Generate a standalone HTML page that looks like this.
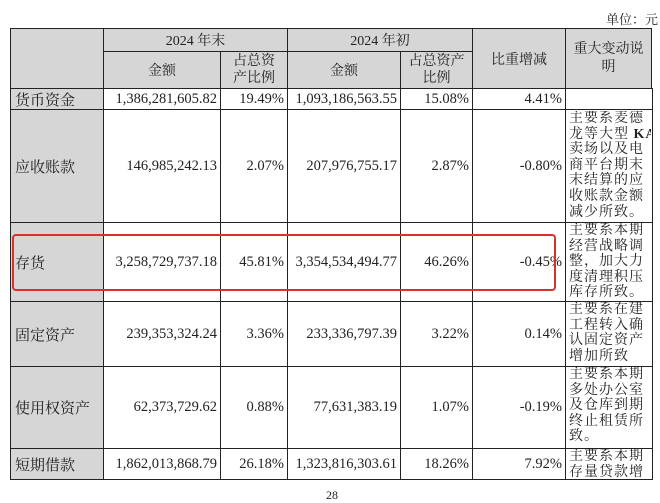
<!DOCTYPE html>
<html><head><meta charset="utf-8"><style>
body{margin:0;background:#fff;width:660px;height:496px;overflow:hidden;position:relative;font-family:"Liberation Serif","Noto Serif CJK SC",serif;color:#222;}
.c{position:absolute;box-sizing:border-box;border:1px solid #222;font-size:14.5px;display:flex;align-items:center;overflow:hidden;white-space:nowrap;}
.g{background:#d6d6d6;}
.ctr{justify-content:center;text-align:center;font-size:14px;}
.r{justify-content:flex-end;padding-right:3px;}
.l{padding-left:4px;font-size:15px;}
.note{position:absolute;left:569px;width:82px;font-size:14px;line-height:15.6px;letter-spacing:1px;overflow:hidden;white-space:nowrap;}
</style></head><body>
<div style="position:absolute;left:606px;top:9px;font-size:13px;">单位：元</div>
<div>
<div class="c g" style="left:10px;top:28px;width:94px;height:61px"></div>
<div class="c g ctr" style="left:103px;top:28px;width:185px;height:24px">2024 年末</div>
<div class="c g ctr" style="left:287px;top:28px;width:186px;height:24px">2024 年初</div>
<div class="c g ctr" style="left:472px;top:28px;width:94px;height:61px">比重增减</div>
<div class="c g ctr" style="left:565px;top:28px;width:87px;height:61px;line-height:18px;white-space:normal">重大变动说<br>明</div>
<div class="c g ctr" style="left:103px;top:51px;width:118px;height:38px">金额</div>
<div class="c g ctr" style="left:220px;top:51px;width:68px;height:38px;line-height:17px;white-space:normal">占总资<br>产比例</div>
<div class="c g ctr" style="left:287px;top:51px;width:114px;height:38px">金额</div>
<div class="c g ctr" style="left:400px;top:51px;width:73px;height:38px;line-height:17px;white-space:normal">占总资产<br>比例</div>
</div>
<div id="rows"></div>
<div class="note" style="top:111px;height:111px">主要系麦德<br>龙等大型 <b>KA</b><br>卖场以及电<br>商平台期末<br>末结算的应<br>收账款金额<br>减少所致。</div>
<div class="note" style="top:223px;height:78px">主要系本期<br>经营战略调<br>整，加大力<br>度清理积压<br>库存所致。</div>
<div class="note" style="top:302px;height:64px">主要系在建<br>工程转入确<br>认固定资产<br>增加所致</div>
<div class="note" style="top:367px;height:81px">主要系本期<br>多处办公室<br>及仓库到期<br>终止租赁所<br>致。</div>
<div class="note" style="top:449px;height:30px">主要系本期<br>存量贷款增</div>
<div style="position:absolute;left:12px;top:234px;width:544px;height:57px;box-sizing:border-box;border:2.5px solid #d8322c;border-radius:4px;"></div>
<div style="position:absolute;left:326px;top:488px;font-size:12px;">28</div>
<script>
const names=["货币资金","应收账款","存货","固定资产","使用权资产","短期借款"];
const endAmt=["1,386,281,605.82","146,985,242.13","3,258,729,737.18","239,353,324.24","62,373,729.62","1,862,013,868.79"];
const endPct=["19.49%","2.07%","45.81%","3.36%","0.88%","26.18%"];
const begAmt=["1,093,186,563.55","207,976,755.17","3,354,534,494.77","233,336,797.39","77,631,383.19","1,323,816,303.61"];
const begPct=["15.08%","2.87%","46.26%","3.22%","1.07%","18.26%"];
const chg=["4.41%","-0.80%","-0.45%","0.14%","-0.19%","7.92%"];
const tops=[88,109,222,301,366,448,479];
const cols=[10,103,220,287,400,472,565,652];
const rows=document.getElementById('rows');
for(let i=0;i<names.length;i++){
 const vals=[names[i],endAmt[i],endPct[i],begAmt[i],begPct[i],chg[i],""];
 for(let j=0;j<7;j++){
  const d=document.createElement('div');
  d.className='c '+(j==0?'g l':(j==6?'':'r'));
  
  
  d.style.left=cols[j]+'px';d.style.top=tops[i]+'px';
  d.style.width=(cols[j+1]-cols[j]+1)+'px';d.style.height=(tops[i+1]-tops[i]+1)+'px';
  d.textContent=vals[j];
  rows.appendChild(d);
 }
}
</script>
</body></html>
